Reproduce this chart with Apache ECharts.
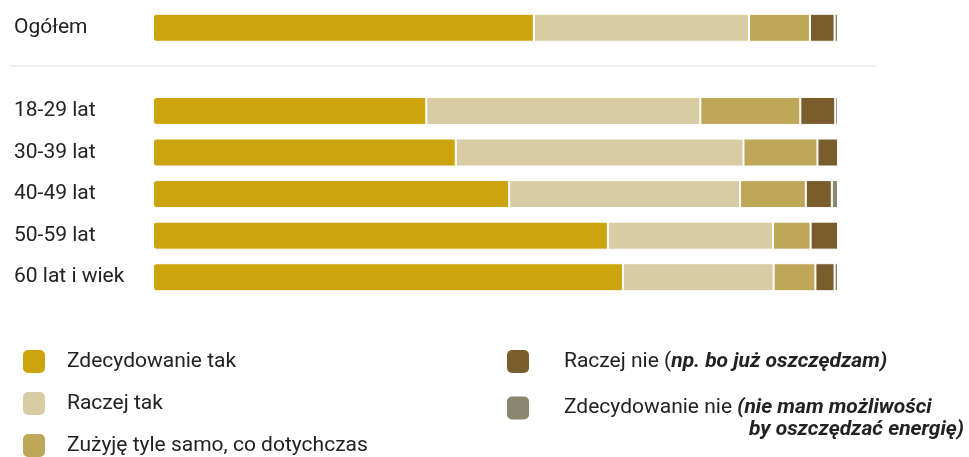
<!DOCTYPE html>
<html>
<head>
<meta charset="utf-8">
<style type="text/css">
html,body{margin:0;padding:0;background:#fff;}
#chart{width:969px;height:457px;}
</style>
</head>
<body>
<div id="chart"></div>
<script src="https://cdn.jsdelivr.net/npm/echarts@6/dist/echarts.min.js"></script>
<script type="text/javascript">
// kategorie (pusta pozycja = odstęp pod "Ogółem")
var categories = ['Ogółem', '', '18-29 lat', '30-39 lat', '40-49 lat', '50-59 lat', '60 lat i wiek'];
var seriesNames = ['Zdecydowanie tak', 'Raczej tak', 'Zużyję tyle samo, co dotychczas', 'Raczej nie', 'Zdecydowanie nie'];
var zdecydowanieTak = [55.6, '-', 39.9, 44.2, 52.0, 66.4, 68.6];
var raczejTak       = [31.4, '-', 40.0, 42.0, 33.7, 24.1, 22.0];
var tyleSamo        = [8.9,  '-', 14.6, 10.8, 9.6,  5.5,  6.1];
var raczejNie       = [3.6,  '-', 5.1,  3.0,  3.8,  4.0,  2.8];
var zdecydowanieNie = [0.5,  '-', 0.4,  0,    0.9,  0,    0.5];
var colors = ['#cca40e', '#d8cca4', '#bea758', '#7a5d2c', '#8b8670'];

var chart = echarts.init(document.getElementById('chart'));
var font = 'Roboto';

function bar(name, data, idx){
    return {
        name: name,
        type: 'bar',
        stack: 'all',
        barWidth: 28,
        data: data,
        itemStyle: {
            color: colors[idx],
            borderColor: '#ffffff',
            borderWidth: 1,
            borderRadius: idx == 0 ? [3, 0, 0, 3] : 0
        },
        emphasis: {disabled: true}
    };
}

var option = {
    animation: false,
    textStyle: {fontFamily: font},
    grid: {left: 153, right: 131, top: 7, height: 291},
    xAxis: {type: 'value', min: 0, max: 100, show: false},
    yAxis: {
        type: 'category',
        inverse: true,
        data: categories,
        axisLine: {show: false},
        axisTick: {show: false},
        splitLine: {show: false},
        axisLabel: {
            align: 'left',
            margin: 139,
            fontSize: 21,
            color: '#222',
            fontFamily: font
        }
    },
    legend: [
        {
            orient: 'vertical',
            left: 21,
            top: 348,
            height: 300,
            padding: 0,
            itemWidth: 24,
            itemHeight: 25,
            itemGap: 15,
            icon: 'roundRect',
            selectedMode: false,
            textStyle: {fontSize: 21, color: '#222', padding: [0, 0, 0, 16], fontFamily: font},
            data: [seriesNames[0], seriesNames[1], seriesNames[2]]
        },
        {
            orient: 'vertical',
            left: 505,
            top: 348,
            height: 300,
            padding: 0,
            itemWidth: 24,
            itemHeight: 25,
            itemGap: 0,
            icon: 'roundRect',
            selectedMode: false,
            textStyle: {
                fontSize: 21, color: '#222', padding: [0, 0, 0, 29], fontFamily: font,
                rich: {
                    n: {fontSize: 21, color: '#222', fontFamily: font},
                    i: {fontSize: 21, color: '#222', fontStyle: 'italic', fontWeight: 'bold', fontFamily: font},
                    r: {fontSize: 21, color: '#222', fontStyle: 'italic', fontWeight: 'bold', fontFamily: font, align: 'right'}
                }
            },
            formatter: function(name){
                if (name == 'Raczej nie') return '{n|Raczej nie (}{i|np. bo już oszczędzam)}';
                return '{n|Zdecydowanie nie }{i|(nie mam możliwości}\n{r|by oszczędzać energię)}';
            },
            data: [
                {name: seriesNames[3]},
                {name: seriesNames[4], textStyle: {lineHeight: 22, width: 400, padding: [22, 0, 0, 29]}}
            ]
        }
    ],
    graphic: [{
        type: 'line',
        shape: {x1: 10, y1: 66, x2: 876, y2: 66},
        style: {stroke: '#e8e8ef', lineWidth: 1.5}
    }],
    series: [
        bar(seriesNames[0], zdecydowanieTak, 0),
        bar(seriesNames[1], raczejTak, 1),
        bar(seriesNames[2], tyleSamo, 2),
        bar(seriesNames[3], raczejNie, 3),
        bar(seriesNames[4], zdecydowanieNie, 4)
    ]
};
chart.setOption(option);
</script>
</body>
</html>
